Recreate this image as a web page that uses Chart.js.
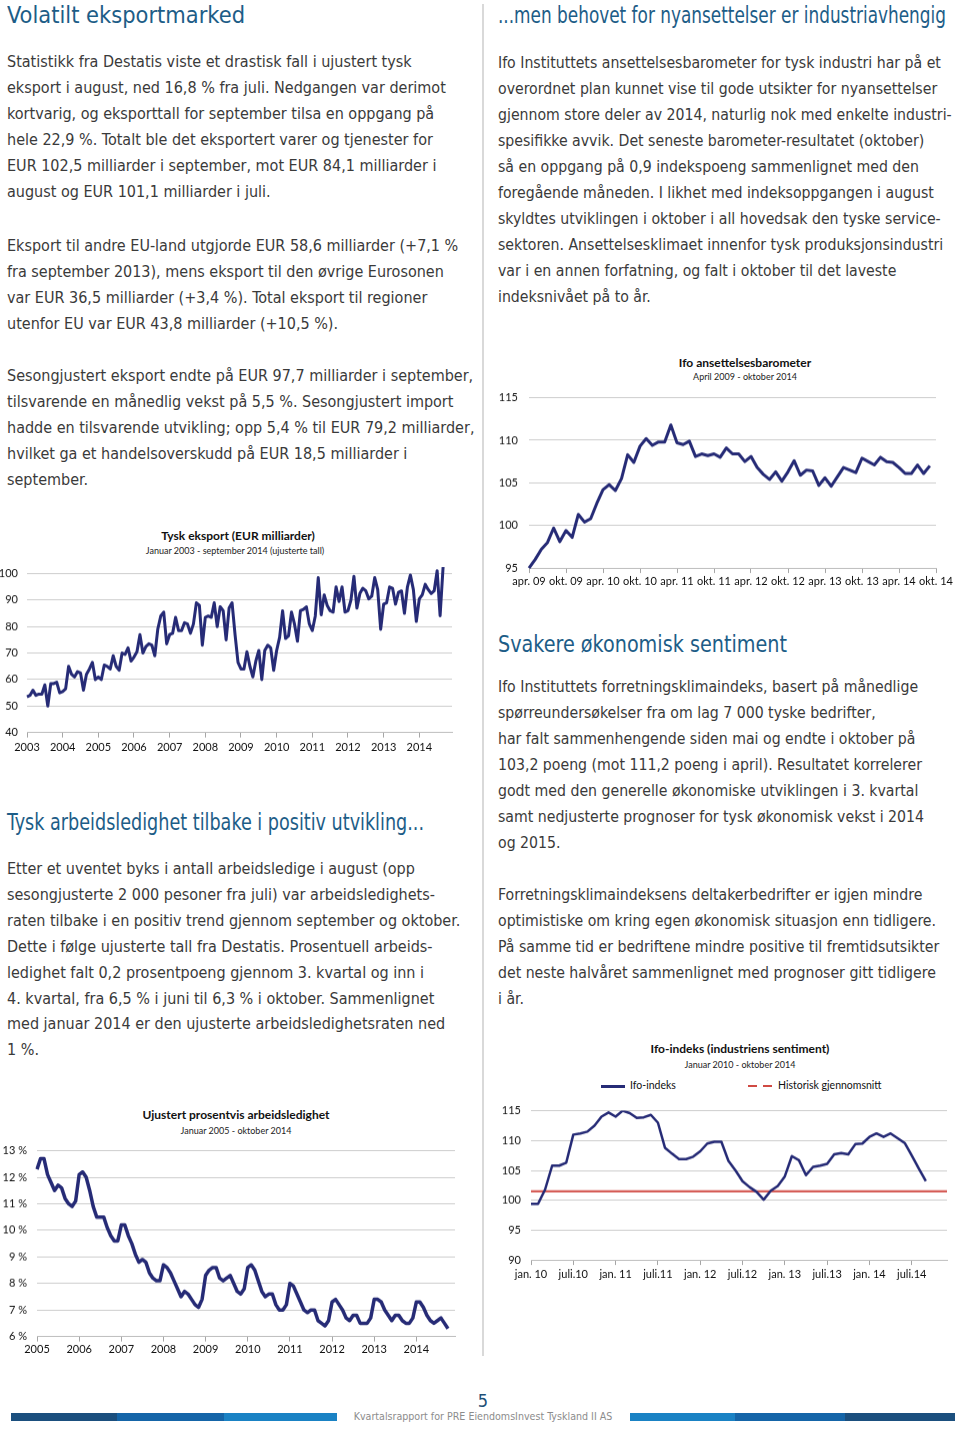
<!DOCTYPE html>
<html>
<head>
<meta charset="utf-8">
<script src="https://cdn.jsdelivr.net/npm/chart.js@4.4.1/dist/chart.umd.min.js"></script>
<style>
body{margin:0;width:960px;height:1430px;position:relative;background:#fff;overflow:hidden;
  font-family:'Liberation Sans Narrow','DejaVu Sans Condensed',sans-serif;color:#3a3a3a;}
.h{position:absolute;white-space:nowrap;font-size:23px;line-height:30px;color:#1d5d87;transform-origin:0 50%;}
.t{position:absolute;white-space:nowrap;font-size:16px;line-height:26px;}
.r{font-size:15.7px;}
.ct{position:absolute;width:320px;text-align:center;font-family:Lato,sans-serif;font-weight:bold;font-size:12px;color:#111;white-space:nowrap;}
.cs{position:absolute;width:320px;text-align:center;font-family:Lato,sans-serif;font-size:9px;color:#222;white-space:nowrap;}
.box{position:absolute;}
.divider{position:absolute;left:482px;top:4px;width:2px;height:1352px;background:#d9d9d9;}
.bar{position:absolute;top:1413px;height:8px;}
.lg{position:absolute;font-family:Lato,sans-serif;font-size:10.5px;color:#111;white-space:nowrap;}
</style>
</head>
<body>

<div class="divider"></div>

<!-- left column -->
<div class="h" data-fit="238" style="left:7px;top:0px">Volatilt eksportmarked</div>
<div class="t" style="left:7px;top:49px">Statistikk fra Destatis viste et drastisk fall i ujustert tysk<br>eksport i august, ned 16,8 % fra juli. Nedgangen var derimot<br>kortvarig, og eksporttall for september tilsa en oppgang på<br>hele 22,9 %. Totalt ble det eksportert varer og tjenester for<br>EUR 102,5 milliarder i september, mot EUR 84,1 milliarder i<br>august og EUR 101,1 milliarder i juli.</div>
<div class="t" style="left:7px;top:233px">Eksport til andre EU-land utgjorde EUR 58,6 milliarder (+7,1 %<br>fra september 2013), mens eksport til den øvrige Eurosonen<br>var EUR 36,5 milliarder (+3,4 %). Total eksport til regioner<br>utenfor EU var EUR 43,8 milliarder (+10,5 %).</div>
<div class="t" style="left:7px;top:363px">Sesongjustert eksport endte på EUR 97,7 milliarder i september,<br>tilsvarende en månedlig vekst på 5,5 %. Sesongjustert import<br>hadde en tilsvarende utvikling; opp 5,4 % til EUR 79,2 milliarder,<br>hvilket ga et handelsoverskudd på EUR 18,5 milliarder i<br>september.</div>

<div class="ct" style="left:78px;top:528px">Tysk eksport (EUR milliarder)</div>
<div class="cs" style="left:75px;top:545px">Januar 2003 - september 2014 (ujusterte tall)</div>
<div class="box" style="left:0px;top:558.4px;width:460px;height:201.6px"><canvas id="exportChart"></canvas></div>

<div class="h" data-fit="417" style="left:7px;top:807px">Tysk arbeidsledighet tilbake i positiv utvikling...</div>
<div class="t" style="left:7px;top:856px;line-height:25.9px">Etter et uventet byks i antall arbeidsledige i august (opp<br>sesongjusterte 2 000 pesoner fra juli) var arbeidsledighets-<br>raten tilbake i en positiv trend gjennom september og oktober.<br>Dette i følge ujusterte tall fra Destatis. Prosentuell arbeids-<br>ledighet falt 0,2 prosentpoeng gjennom 3. kvartal og inn i<br>4. kvartal, fra 6,5 % i juni til 6,3 % i oktober. Sammenlignet<br>med januar 2014 er den ujusterte arbeidsledighetsraten ned<br>1 %.</div>

<div class="ct" style="left:76px;top:1107px">Ujustert prosentvis arbeidsledighet</div>
<div class="cs" style="left:76px;top:1125px">Januar 2005 - oktober 2014</div>
<div class="box" style="left:0px;top:1134.4px;width:462px;height:225.6px"><canvas id="unempChart"></canvas></div>

<!-- right column -->
<div class="h" data-fit="448" style="left:498px;top:0px">...men behovet for nyansettelser er industriavhengig</div>
<div class="t r" style="left:498px;top:50px">Ifo Instituttets ansettelsesbarometer for tysk industri har på et<br>overordnet plan kunnet vise til gode utsikter for nyansettelser<br>gjennom store deler av 2014, naturlig nok med enkelte industri-<br>spesifikke avvik. Det seneste barometer-resultatet (oktober)<br>så en oppgang på 0,9 indekspoeng sammenlignet med den<br>foregående måneden. I likhet med indeksoppgangen i august<br>skyldtes utviklingen i oktober i all hovedsak den tyske service-<br>sektoren. Ansettelsesklimaet innenfor tysk produksjonsindustri<br>var i en annen forfatning, og falt i oktober til det laveste<br>indeksnivået på to år.</div>

<div class="ct" style="left:585px;top:355px">Ifo ansettelsesbarometer</div>
<div class="cs" style="left:585px;top:371px">April 2009 - oktober 2014</div>
<div class="box" style="left:496px;top:380.4px;width:464px;height:209.6px"><canvas id="baroChart"></canvas></div>

<div class="h" data-fit="289" style="left:498px;top:629px">Svakere økonomisk sentiment</div>
<div class="t r" style="left:498px;top:674px">Ifo Instituttets forretningsklimaindeks, basert på månedlige<br>spørreundersøkelser fra om lag 7 000 tyske bedrifter,<br>har falt sammenhengende siden mai og endte i oktober på<br>103,2 poeng (mot 111,2 poeng i april). Resultatet korrelerer<br>godt med den generelle økonomiske utviklingen i 3. kvartal<br>samt nedjusterte prognoser for tysk økonomisk vekst i 2014<br>og 2015.</div>
<div class="t r" style="left:498px;top:882px">Forretningsklimaindeksens deltakerbedrifter er igjen mindre<br>optimistiske om kring egen økonomisk situasjon enn tidligere.<br>På samme tid er bedriftene mindre positive til fremtidsutsikter<br>det neste halvåret sammenlignet med prognoser gitt tidligere<br>i år.</div>

<div class="ct" style="left:580px;top:1041px">Ifo-indeks (industriens sentiment)</div>
<div class="cs" style="left:580px;top:1059px">Januar 2010 - oktober 2014</div>
<div style="position:absolute;left:601px;top:1085px;width:24px;height:3px;background:#262b76"></div>
<div class="lg" style="left:630px;top:1079px">Ifo-indeks</div>
<div style="position:absolute;left:748px;top:1085px;width:24px;height:2px;background:linear-gradient(90deg,#d04a43 0 9px,transparent 9px 15px,#d04a43 15px 24px)"></div>
<div class="lg" style="left:778px;top:1079px">Historisk gjennomsnitt</div>
<div class="box" style="left:496px;top:1094.4px;width:464px;height:190.6px"><canvas id="ifoChart"></canvas></div>

<!-- footer -->
<div style="position:absolute;left:0;width:966px;top:1390px;text-align:center;font-size:18px;color:#1d4f77">5</div>
<div style="position:absolute;left:0;width:966px;top:1410px;text-align:center;font-size:10.6px;color:#8c8c8c">Kvartalsrapport for PRE EiendomsInvest Tyskland II AS</div>
<div class="bar" style="left:11px;width:106px;background:#1b4f7e"></div>
<div class="bar" style="left:117px;width:107px;background:#1565a8"></div>
<div class="bar" style="left:224px;width:113px;background:#1a82c4"></div>
<div class="bar" style="left:630px;width:105px;background:#1a82c4"></div>
<div class="bar" style="left:735px;width:110px;background:#1565a8"></div>
<div class="bar" style="left:845px;width:110px;background:#1b4f7e"></div>

<script>
// ----- Data -----
// Tysk eksport, EUR mrd, jan 2003 - sep 2014 (ujustert)
const exportValues = [
  53.5, 54, 56, 54, 54.5, 54.5, 58, 50, 58.5, 58.5, 59, 55,          // 2003
  55.5, 56.5, 65, 62, 61, 63, 62.5, 56, 62, 64, 66.5, 60,            // 2004
  61, 60, 65.5, 65, 64, 69, 65, 63.5, 70, 69.5, 72, 67,              // 2005
  68.5, 70.5, 77, 70, 72.5, 73.5, 73, 69, 79, 84, 85.5, 73.5,        // 2006
  77, 77.5, 83.5, 78.5, 78.5, 81.5, 81, 77.5, 81, 89, 88, 73,        // 2007
  83.5, 84, 83.5, 89, 80, 87.5, 86, 75, 87, 89, 77, 66.5,            // 2008
  64, 64, 70.5, 65, 61, 67, 71, 60, 71, 73, 72, 63.5,                // 2009
  71, 76, 86, 75.5, 76.5, 85.5, 81, 74.5, 86, 86.5, 87.5, 81,        // 2010
  78.5, 84, 98.5, 84.5, 92, 88, 86, 85.5, 95, 89.5, 95, 85.5,        // 2011
  86, 90, 99, 87, 92.5, 94.5, 93.5, 90.5, 91.5, 98.5, 94, 79,        // 2012
  88.5, 89, 95, 94.5, 88.5, 93, 93.5, 85, 95, 99.5, 94, 82,          // 2013
  90.5, 92, 96, 94, 92.5, 93.5, 101.1, 84.1, 102.5                   // 2014
];
const exportYears = ['2003','2004','2005','2006','2007','2008','2009','2010','2011','2012','2013','2014'];

// Ifo ansettelsesbarometer, apr 2009 - sep 2014
const baroValues = [
  95.0, 96.0, 97.2, 98.0, 99.7, 98.1, 99.4, 98.6, 101.3,                          // 2009
  100.4, 100.8, 102.6, 104.2, 104.8, 104.1, 105.5, 108.3, 107.4, 109.3, 110.2, 109.4, // 2010
  109.8, 109.8, 111.8, 109.7, 109.5, 109.9, 108.1, 108.4, 108.2, 108.4, 108.0, 109.1, // 2011
  108.4, 108.4, 107.5, 108.1, 106.8, 106.0, 105.4, 106.3, 105.2, 106.3, 107.6, 105.9, // 2012
  106.5, 106.4, 104.7, 105.6, 104.6, 105.7, 106.8, 106.5, 106.2, 107.9, 107.5, 107.1, // 2013
  108.0, 107.5, 107.4, 106.8, 106.1, 106.1, 107.1, 106.1, 107.0                    // 2014
];
const baroTicks = ['apr. 09','okt. 09','apr. 10','okt. 10','apr. 11','okt. 11','apr. 12','okt. 12','apr. 13','okt. 13','apr. 14','okt. 14'];

// Ujustert arbeidsledighet (%), jan 2005 - okt 2014
const unempValues = [
  12.3, 12.7, 12.7, 12.1, 11.8, 11.5, 11.7, 11.6, 11.2, 11.0, 10.9, 11.1, // 2005
  12.1, 12.2, 12.0, 11.5, 10.9, 10.5, 10.5, 10.5, 10.1, 9.8, 9.6, 9.6,    // 2006
  10.2, 10.2, 9.8, 9.5, 9.1, 8.8, 8.9, 8.8, 8.4, 8.2, 8.1, 8.1,           // 2007
  8.7, 8.6, 8.4, 8.1, 7.8, 7.5, 7.7, 7.6, 7.4, 7.2, 7.1, 7.4,             // 2008
  8.3, 8.5, 8.6, 8.6, 8.2, 8.1, 8.2, 8.3, 8.0, 7.7, 7.6, 7.8,             // 2009
  8.6, 8.7, 8.5, 8.1, 7.7, 7.5, 7.6, 7.6, 7.2, 7.0, 7.0, 7.2,             // 2010
  8.0, 7.9, 7.6, 7.3, 7.0, 6.9, 7.0, 7.0, 6.6, 6.5, 6.4, 6.6,             // 2011
  7.3, 7.4, 7.2, 7.0, 6.7, 6.6, 6.8, 6.8, 6.5, 6.5, 6.5, 6.7,             // 2012
  7.4, 7.4, 7.3, 7.0, 6.8, 6.6, 6.8, 6.8, 6.6, 6.5, 6.5, 6.7,             // 2013
  7.3, 7.3, 7.1, 6.8, 6.6, 6.5, 6.6, 6.7, 6.5, 6.3                        // 2014
];
const unempYears = ['2005','2006','2007','2008','2009','2010','2011','2012','2013','2014'];

// Ifo-indeks (industriens sentiment), jan 2010 - okt 2014
const ifoValues = [
  99.4, 99.4, 101.8, 105.8, 105.8, 106.3, 111.0, 111.2, 111.5, 112.5, 114.0, 114.7, // 2010
  114.0, 115.0, 114.6, 113.8, 113.9, 114.3, 113.0, 108.8, 107.8, 106.9, 106.9, 107.3, // 2011
  108.2, 109.5, 109.8, 109.8, 106.6, 105.0, 103.2, 102.2, 101.4, 100.1, 101.6, 102.4, // 2012
  104.0, 107.4, 106.7, 104.2, 105.6, 105.8, 106.1, 107.7, 107.9, 107.7, 109.4, 109.5, // 2013
  110.6, 111.2, 110.6, 111.2, 110.4, 109.6, 107.5, 105.3, 103.2                       // 2014
];
const ifoHistAvg = 101.5;
const ifoTicks = ['jan. 10','juli.10','jan. 11','juli.11','jan. 12','juli.12','jan. 13','juli.13','jan. 14','juli.14'];

// ----- Helpers -----
const NAVY = '#262b76';
const RED = '#d04a43';
const GRID = '#cdcdcd';
const TICKFONT = {family:'Lato, sans-serif', size:11};

function monthSeries(startYear, startMonth, count){
    const out = [];
    for(let i=0;i<count;i++){
        const m = startMonth-1+i;
        out.push((startYear+Math.floor(m/12))+'-'+String(m%12+1).padStart(2,'0'));
    }
    return out;
}

// squeeze headings to the width they have in the report
document.querySelectorAll('.h[data-fit]').forEach(el=>{
    const w = el.getBoundingClientRect().width;
    el.style.transform = 'scaleX('+(Number(el.dataset.fit)/w)+')';
});

// c: {every, tickNames, min, max, step, yWidth, yPad, xHeight, xPad, pad, fmt}
function buildOptions(c){
    return {
        responsive:true,
        maintainAspectRatio:false,
        animation:false,
        layout:{padding:c.pad},
        plugins:{legend:{display:false}, tooltip:{enabled:false}},
        scales:{
            x:{
                type:'category',
                offset:false,
                grid:{
                    drawOnChartArea:false,
                    tickLength:5,
                    tickColor:ctx=>(ctx.index % c.every===0 && c.tickNames[ctx.index/c.every]) ? '#a6a6a6' : 'rgba(0,0,0,0)'
                },
                border:{display:true, color:'#bdbdbd', width:1},
                ticks:{
                    autoSkip:false, maxRotation:0, minRotation:0,
                    padding:c.xPad, color:'#111', font:TICKFONT,
                    callback:(v,i)=> i % c.every===0 ? (c.tickNames[i/c.every] || '') : ''
                },
                afterFit:s=>{s.height=c.xHeight;}
            },
            y:{
                min:c.min, max:c.max,
                grid:{color:GRID, lineWidth:1, drawTicks:false},
                border:{display:false},
                ticks:{stepSize:c.step, padding:c.yPad, color:'#111', font:TICKFONT,
                    callback:c.fmt || (v=>v)},
                afterFit:s=>{s.width=c.yWidth;}
            }
        }
    };
}

// ----- Charts -----
const exportMonths = monthSeries(2003,1,144);
new Chart(document.getElementById('exportChart'),{
    type:'line',
    data:{labels:exportMonths, datasets:[{data:exportValues, borderColor:NAVY, borderWidth:3,
        pointRadius:0, tension:0, borderJoinStyle:'round', clip:false}]},
    options:buildOptions({every:12, tickNames:exportYears, min:40, max:100, step:10,
        yWidth:27, yPad:9, xHeight:28, xPad:3, pad:{top:0, right:8, bottom:0, left:0}})
});

const baroMonths = monthSeries(2009,4,67);
new Chart(document.getElementById('baroChart'),{
    type:'line',
    data:{labels:baroMonths, datasets:[{data:baroValues, borderColor:NAVY, borderWidth:3,
        pointRadius:0, tension:0, borderJoinStyle:'round', clip:false}]},
    options:buildOptions({every:6, tickNames:baroTicks, min:95, max:115, step:5,
        yWidth:33, yPad:11, xHeight:22.5, xPad:2, pad:{top:0, right:24, bottom:0, left:0}})
});

const unempMonths = monthSeries(2005,1,120);
new Chart(document.getElementById('unempChart'),{
    type:'line',
    data:{labels:unempMonths, datasets:[{data:unempValues, borderColor:NAVY, borderWidth:3.5,
        pointRadius:0, tension:0, borderJoinStyle:'round'}]},
    options:buildOptions({every:12, tickNames:unempYears, min:6, max:13, step:1,
        yWidth:37, yPad:10, xHeight:24, xPad:1.5, pad:{top:0, right:7, bottom:0, left:0},
        fmt:v=>v+' %'})
});

const ifoMonths = monthSeries(2010,1,60);
new Chart(document.getElementById('ifoChart'),{
    type:'line',
    data:{labels:ifoMonths, datasets:[
        {label:'Ifo-indeks', data:ifoValues, borderColor:NAVY, borderWidth:2.5,
            pointRadius:0, tension:0, borderJoinStyle:'round', order:0},
        {label:'Historisk gjennomsnitt',
            data:[{x:ifoMonths[0], y:ifoHistAvg},{x:ifoMonths[ifoMonths.length-1], y:ifoHistAvg}],
            borderColor:RED, borderWidth:2, pointRadius:0, order:1}
    ]},
    options:buildOptions({every:6, tickNames:ifoTicks, min:90, max:115, step:5,
        yWidth:35, yPad:10, xHeight:25.5, xPad:3, pad:{top:0, right:13, bottom:0, left:0}})
});
</script>
</body>
</html>
